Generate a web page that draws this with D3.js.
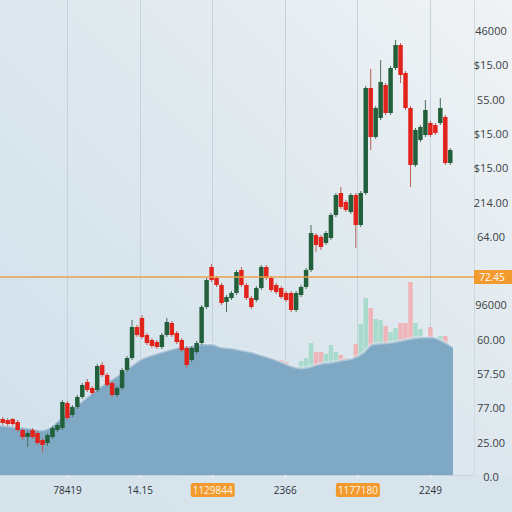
<!DOCTYPE html>
<html><head><meta charset="utf-8">
<script src="https://cdn.jsdelivr.net/npm/d3@7"></script>
<style>html,body{margin:0;padding:0;background:#dfe8ee;} svg{display:block;}</style>
</head><body><svg id="c" width="512" height="512"></svg>
<script>
// ---- data ----
const openV  = [11.2,11,11.2,10.6,9,7.6,9,8.4,7,6.4,7.6,9,9.4,14.4,12,13.6,15.6,18.6,17.4,17,22,20,18.4,16,17.4,21,23.4,29.6,31.4,28,27,26.6,25.6,28,30.4,28.4,27,25.4,23,24.6,26.4,33.6,41.6,39.4,38,34.6,35.4,36.4,41,38,35.4,35,37.4,41.6,39.4,38,37.4,36.4,36.4,33,36,37.6,41,48,47.6,46.4,47.4,52,56.4,54.6,52.6,56,50,56.4,77.4,67.6,71.4,78,72.4,81.4,86,80.4,73.4,62,67,68,70.4,70,70.4,71.6,62.4];
const closeV = [10.4,10.2,10.2,9,7.6,8.4,7.6,6.4,6,8,9.4,10,14.6,11.4,13.6,15.6,18,17,16.4,21.8,20,18,16,17.4,21,23.4,29.6,28,27.6,26.4,25.8,25.6,28,30.6,28,26.6,25,22,25.4,26.4,33.6,39,39,38,34.4,35.6,36.4,40.6,38,35.4,33.6,37.4,41.6,39.4,37,36.6,35.6,35,33,36.4,37.6,41,48.4,46,45.6,48.4,52,56,53.6,53,56,50,56.4,77.4,67.6,73.4,78.6,72.4,81.4,86,80,73.4,62,69,69.6,73,68,68.4,73.4,62.4,65];
const highV  = [11.6,11.4,11.4,11,9.4,8.8,9.4,8.8,7.4,8.4,9.8,10.4,15,14.8,14,16,18.4,19.2,17.8,22.2,22.6,20.4,18.8,17.8,21.4,23.8,31,30,32,28.4,27.4,27,28.4,31.4,30.8,28.8,27.4,25.8,25.8,26.8,34,39.4,42.2,39.8,38.4,36,36.8,41,41.6,38.4,35.8,37.8,42,42,39.8,38.4,37.8,36.8,36.8,36.8,38,41.4,50,48.4,48,48.8,52.4,56.4,57.6,55,56.4,56.4,56.8,77.8,81.2,73.8,83,78.4,81.8,87,86.4,80.8,73.8,69.4,70,75,70.8,70.4,75.4,72,65.4];
const lowV   = [10,9.8,9.8,8.6,7,5.6,7.2,6,4.6,5.8,7.2,8.6,9,11,11.6,13.2,15.2,16.6,16,16.6,19.6,17.6,15.6,15.6,17,20.6,23,27.6,27.2,26,25.4,25.2,25.2,27.6,27.6,26.2,24.6,21.4,22.6,24.2,26,33.2,38.6,37.6,34,32.6,35,36,37.6,35,33.2,34.6,37,39,36.6,36.2,35.2,34.6,32.6,32.6,35.6,37.2,40.6,44.6,45,46,47,51.6,53.2,52.6,52.2,45.4,49.6,56,65,67.2,71,72,72,81,78.4,73,57.6,61.6,66.6,67.6,67.6,68,70,62,62];
const volumeV = [14,12,15,16,18,17,15,19,18,16,14,15,20,18,16,17,19,15,16,20,18,17,16,19,18,20,19,17,18,16,20,19,18,17,19,20,18,17,16,19,20,18,19,17,16,18,20,19,17,18,16,19,18,17,20,54,57.5,56.5,54.5,54,57,58.5,66,61.5,61.5,60.5,65,61.5,60,58.5,58,65.5,75.5,88.5,83.5,78,77.5,74.5,71.5,73.5,76,76,96.5,76,73,68.5,74,67.5,69.5,69.5,62.5];
const areaV = [10,9.8,9.6,9.4,9,9.6,11.4,13,14.6,16.2,17.8,19,20.4,21.8,23.2,24,24.6,25.2,25.6,25.8,26.2,26.2,25.6,25.4,25,24.6,24,23.4,22.6,21.8,21.4,21.8,22.4,22.6,23,23.4,24.4,26.2,26.4,26.6,27,27.4,27.6,27.6,26.8,25.6];
const xTickLabels = ["78419","14.15","1129844","2366","1177180","2249"];
const xTickHighlight = ["1129844","1177180"];
const yTickLabels = ["46000","$15.00","S5.00","$15.00","$15.00","214.00","64.00","","96000","60.00","57.50","77.00","25.00","0.0"];
const markerValue = 39.6;
const markerLabel = "72.45";

// ---- drawing ----
const svg = d3.select("#c");
const W = 512, H = 512, plotR = 474, plotB = 475;
const defs = svg.append("defs");
const bg = defs.append("linearGradient").attr("id","bg").attr("x1","0").attr("y1","1").attr("x2","1").attr("y2","0");
bg.append("stop").attr("offset","0").attr("stop-color","#cfe0ec");
bg.append("stop").attr("offset","0.55").attr("stop-color","#dee8ee");
bg.append("stop").attr("offset","1").attr("stop-color","#f0f3f5");
defs.append("clipPath").attr("id","axclip").append("rect").attr("x",0).attr("y",0).attr("width",W).attr("height",481);
svg.append("rect").attr("width",W).attr("height",H).attr("fill","url(#bg)");
svg.append("rect").attr("x",0).attr("y",plotB).attr("width",W).attr("height",H-plotB).attr("fill","#d7e3eb").attr("opacity",0.8);

const y = d3.scaleLinear().domain([0,95]).range([plotB,0]);
const yVol = d3.scaleLinear().domain([0,100]).range([plotB,275]);
const x = d3.scaleBand().domain(d3.range(openV.length)).range([0,453]).padding(0.1);
const xArea = d3.scaleLinear().domain([0,areaV.length-1]).range([0,453]);
const xT = d3.scalePoint().domain(xTickLabels).range([67,430]);
const yT = d3.scalePoint().domain(d3.range(yTickLabels.length)).range([31,477]);

// gridlines
svg.append("g").selectAll("line").data(xTickLabels).join("line")
  .attr("x1",d=>Math.round(xT(d))+0.5).attr("x2",d=>Math.round(xT(d))+0.5)
  .attr("y1",0).attr("y2",plotB).attr("stroke","#c6d3dc").attr("stroke-width",1);

// volume bars
svg.append("g").selectAll("rect").data(volumeV).join("rect")
  .attr("x",(d,i)=>x(i)).attr("width",x.bandwidth())
  .attr("y",d=>yVol(d)).attr("height",d=>plotB-yVol(d))
  .attr("fill",(d,i)=>closeV[i]>=openV[i]?"#9fd8c6":"#f2aaae").attr("opacity",0.85);

// area
const area = d3.area().x((d,i)=>xArea(i)).y0(y(0)).y1(d=>y(d)).curve(d3.curveMonotoneX);
svg.append("path").datum(areaV).attr("d",area).attr("fill","#7fa8c4");
const line = d3.line().x((d,i)=>xArea(i)).y(d=>y(d)).curve(d3.curveMonotoneX);
svg.append("path").datum(areaV).attr("d",line).attr("fill","none").attr("stroke","#e6eef3").attr("stroke-width",3).attr("opacity",0.45);

// candles
const cg = svg.append("g");
const up = i => closeV[i] >= openV[i];
const col = i => up(i) ? "#22603b" : "#e2231b";
cg.selectAll("line").data(openV).join("line")
  .attr("x1",(d,i)=>x(i)+x.bandwidth()/2).attr("x2",(d,i)=>x(i)+x.bandwidth()/2)
  .attr("y1",(d,i)=>y(highV[i])).attr("y2",(d,i)=>y(lowV[i]))
  .attr("stroke",(d,i)=>up(i)?"#4d6f5c":"#b8605a").attr("stroke-width",1);
cg.selectAll("rect").data(openV).join("rect")
  .attr("x",(d,i)=>x(i)).attr("width",x.bandwidth())
  .attr("y",(d,i)=>y(Math.max(openV[i],closeV[i])))
  .attr("height",(d,i)=>Math.max(1,Math.abs(y(openV[i])-y(closeV[i]))))
  .attr("fill",(d,i)=>col(i));

// marker line
svg.append("line").attr("x1",0).attr("x2",plotR).attr("y1",y(markerValue)).attr("y2",y(markerValue))
  .attr("stroke","#eaa24c").attr("stroke-width",1.5);

// axis frame
svg.append("line").attr("x1",plotR+0.5).attr("x2",plotR+0.5).attr("y1",0).attr("y2",plotB)
  .attr("stroke","#cfd9e0").attr("stroke-width",1);

// right axis
const ra = svg.append("g").attr("clip-path","url(#axclip)").append("g").attr("transform",`translate(491,0)`)
  .call(d3.axisRight(yT).tickSize(0).tickPadding(0).tickFormat(i=>yTickLabels[i]));
ra.select(".domain").remove();
ra.selectAll("text").attr("text-anchor","middle").attr("fill","#3a3f44")
  .style("font-family","'Open Sans', 'DejaVu Sans', sans-serif").style("font-size","11px");

// marker label
const my = y(markerValue);
svg.append("rect").attr("x",plotR).attr("y",my-7).attr("width",W-plotR).attr("height",14).attr("fill","#f29a2e");
svg.append("text").attr("x",492).attr("y",my).attr("dy","0.35em").attr("text-anchor","middle")
  .attr("fill","#fff").style("font-family","'Open Sans', sans-serif").style("font-size","10px").text(markerLabel);

// bottom axis
const ba = svg.append("g").attr("transform",`translate(0,${plotB})`)
  .call(d3.axisBottom(xT).tickSize(3).tickPadding(9));
ba.select(".domain").attr("d",`M0,0.5H${plotR}`).attr("stroke","#c5d3dc");
ba.selectAll(".tick line").attr("stroke","#eef3f6");
ba.selectAll(".tick").each(function(d){
  if (xTickHighlight.includes(d)) {
    const g = d3.select(this);
    g.insert("rect","text").attr("x",-22).attr("y",8).attr("width",44).attr("height",14).attr("rx",2).attr("fill","#f29a2e");
    g.select("text").attr("fill","#fff5e6");
  } else {
    d3.select(this).select("text").attr("fill","#2e3338");
  }
});
ba.selectAll("text").style("font-family","'Open Sans', 'DejaVu Sans', sans-serif").style("font-size","10px");
</script></body></html>
